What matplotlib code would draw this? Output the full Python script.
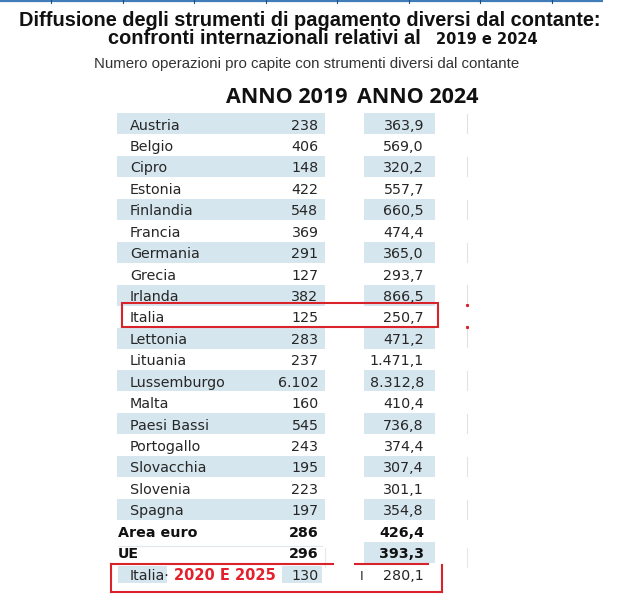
import numpy as np
import matplotlib.pyplot as plt
from matplotlib.patches import Rectangle

paesi = ["Austria", "Belgio", "Cipro", "Estonia", "Finlandia", "Francia", "Germania",
         "Grecia", "Irlanda", "Italia", "Lettonia", "Lituania", "Lussemburgo", "Malta",
         "Paesi Bassi", "Portogallo", "Slovacchia", "Slovenia", "Spagna"]
val_2019 = [238, 406, 148, 422, 548, 369, 291, 127, 382, 125, 283, 237, 6102, 160,
            545, 243, 195, 223, 197]
val_2024 = [363.9, 569.0, 320.2, 557.7, 660.5, 474.4, 365.0, 293.7, 866.5, 250.7,
            471.2, 1471.1, 8312.8, 410.4, 736.8, 374.4, 307.4, 301.1, 354.8]
aggregati = ["Area euro", "UE"]
agg_2019 = [286, 296]
agg_2024 = [426.4, 393.3]
italia_2020 = 130
italia_2025 = 280.1

BAND = '#d6e6ef'
RED = '#d8232a'
TXT = '#262626'
TAB = 'DejaVu Sans'
TIT = 'Liberation Sans'


def fmt(v, dec=0):
    s = f"{v:,.{dec}f}"
    return s.replace(',', 'X').replace('.', ',').replace('X', '.')


fig = plt.figure(figsize=(6.3, 6.01), dpi=100)
ax = fig.add_axes([0, 0, 1, 1])
ax.set_xlim(0, 630)
ax.set_ylim(601, 0)
ax.axis('off')

# blue rule at the top
ax.plot([0, 603], [1, 1], color='#3f7cb8', lw=1.6, solid_capstyle='butt')
for xt in np.arange(51, 603, 71.5):
    ax.plot([xt, xt], [0, 3], color='#1f4f80', lw=0.8)

# titles
ax.text(309.5, 25.5, "Diffusione degli strumenti di pagamento diversi dal contante:",
        ha='center', va='baseline', fontsize=14.4, fontweight='bold', family=TIT, color='#111')
ax.text(108, 44.5, "confronti internazionali relativi al", ha='left', va='baseline',
        fontsize=14.4, fontweight='bold', family=TIT, color='#111')
ax.text(436, 44, "2019 e 2024", ha='left', va='baseline', fontsize=10.5,
        fontweight='bold', family=TAB, color='#111')
ax.text(306.5, 68, "Numero operazioni pro capite con strumenti diversi dal contante",
        ha='center', va='baseline', fontsize=10.8, family=TIT, color='#333')
ax.text(226, 103, "ANNO 2019", ha='left', va='baseline', fontsize=15.5,
        fontweight='bold', family='Open Sans', color='#111')
ax.text(357, 103, "ANNO 2024", ha='left', va='baseline', fontsize=15.5,
        fontweight='bold', family='Open Sans', color='#111')

base0 = 129.5
pitch = 21.43
fs = 10.3

for i, (p, a, b) in enumerate(zip(paesi, val_2019, val_2024)):
    y = base0 + i * pitch
    if i % 2 == 0:
        ax.add_patch(Rectangle((117, y - 16.3), 208, 21, color=BAND, lw=0))
        ax.add_patch(Rectangle((364, y - 16.3), 71, 21, color=BAND, lw=0))
        ax.plot([467, 467], [y - 15.5, y + 3.5], color='#e2e2e2', lw=0.8)
    ax.text(130, y, p, ha='left', va='baseline', fontsize=fs, family=TAB, color=TXT)
    ax.text(318.5, y, fmt(a), ha='right', va='baseline', fontsize=fs, family=TAB, color=TXT)
    ax.text(424, y, fmt(b, 1), ha='right', va='baseline', fontsize=fs, family=TAB, color=TXT)

n = len(paesi)
for j, (p, a, b) in enumerate(zip(aggregati, agg_2019, agg_2024)):
    y = base0 + (n + j) * pitch
    if j == 1:
        ax.add_patch(Rectangle((364, y - 16.3), 71, 21, color=BAND, lw=0))
        ax.plot([325, 325], [y - 10, y + 9], color='#e4ebf0', lw=0.8)
        ax.plot([467, 467], [y - 10, y + 9], color='#e4ebf0', lw=0.8)
    else:
        ax.plot([118, 322], [y + 9, y + 9], color='#e0e8ee', lw=0.8)
    ax.text(118, y, p, ha='left', va='baseline', fontsize=fs, fontweight='bold',
            family=TAB, color='#111')
    ax.text(318.5, y, fmt(a), ha='right', va='baseline', fontsize=fs, fontweight='bold',
            family=TAB, color='#111')
    ax.text(424, y, fmt(b, 1), ha='right', va='baseline', fontsize=fs, fontweight='bold',
            family=TAB, color='#111')

# last row: Italia 2020 / 2025
y = base0 + (n + 2) * pitch
ax.add_patch(Rectangle((118, y - 14), 49, 17.5, color=BAND, lw=0))
ax.add_patch(Rectangle((282, y - 14), 40, 17.5, color=BAND, lw=0))
ax.text(130, y, "Italia·", ha='left', va='baseline', fontsize=fs, family=TAB, color=TXT)
ax.text(174, y, "2020 E 2025", ha='left', va='baseline', fontsize=10.5, fontweight='bold',
        family=TAB, color='#e3202b')
ax.text(318.5, y, fmt(italia_2020), ha='right', va='baseline', fontsize=fs, family=TAB, color=TXT)
ax.text(362, y, "I", ha='center', va='baseline', fontsize=fs - 1, family=TAB, color=TXT)
ax.text(424, y, fmt(italia_2025, 1), ha='right', va='baseline', fontsize=fs, family=TAB, color=TXT)

# red highlight around Italia
yi = base0 + paesi.index("Italia") * pitch
ax.add_patch(Rectangle((122, yi - 19), 316, 24, fill=False, edgecolor=RED, lw=1.5))
ax.plot([467], [yi - 17], marker='s', ms=1.2, color=RED, lw=0)
ax.plot([467], [yi + 5], marker='s', ms=1.2, color=RED, lw=0)

# red box around the last row
yt, yb = y - 15.5, y + 12.5
ax.plot([111, 333], [yt, yt], color=RED, lw=1.5)
ax.plot([355, 428], [yt, yt], color=RED, lw=1.5)
ax.plot([111, 111], [yt, yb], color=RED, lw=1.5)
ax.plot([111, 442], [yb, yb], color=RED, lw=1.5)
ax.plot([442, 442], [yt + 1, yb], color=RED, lw=1.5)

fig.savefig('out.png', dpi=100, facecolor='white')
